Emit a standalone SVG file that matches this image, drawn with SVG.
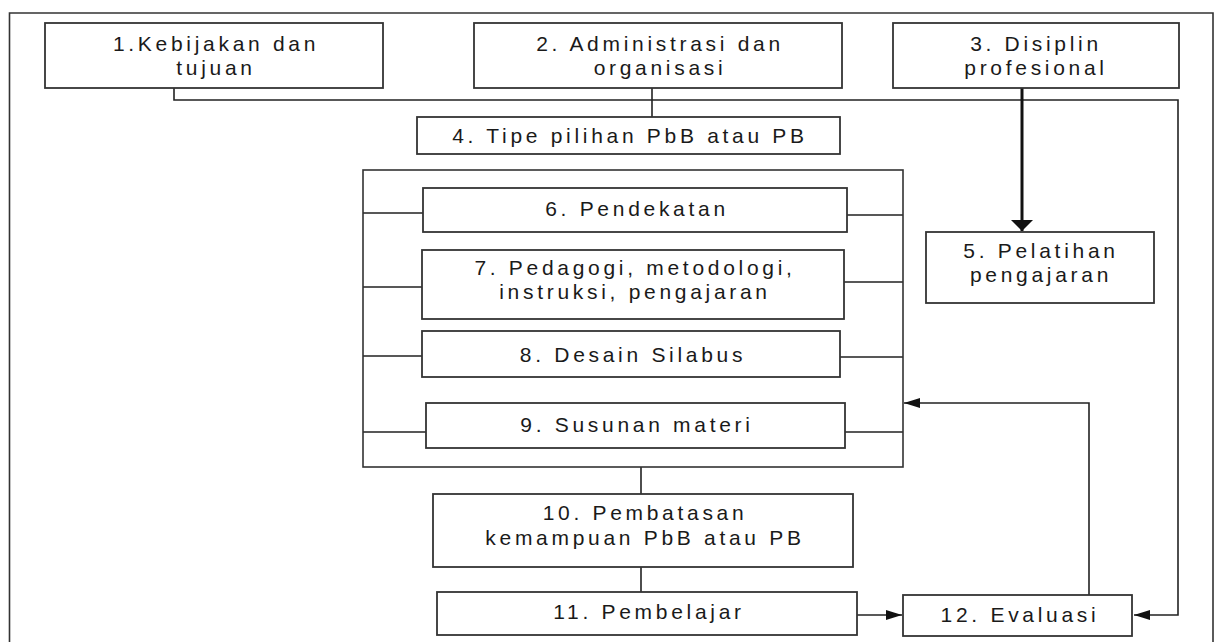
<svg xmlns="http://www.w3.org/2000/svg" width="1219" height="642" viewBox="0 0 1219 642">
<defs>
<style>
.box{fill:#fff;stroke:#333;stroke-width:1.8}
.frame{fill:none;stroke:#333;stroke-width:1.6}
.ln{fill:none;stroke:#222;stroke-width:1.6}
.thick{fill:none;stroke:#111;stroke-width:3}
text{font-family:"Liberation Sans",Arial,sans-serif;font-size:21px;fill:#1a1a1a;text-anchor:middle;letter-spacing:3.7px}
</style>
<marker id="arr" markerUnits="userSpaceOnUse" markerWidth="17" markerHeight="11" refX="16" refY="5" orient="auto">
<path d="M0,0 L16,5 L0,10 z" fill="#111"/>
</marker>
<marker id="arrT" markerUnits="userSpaceOnUse" markerWidth="12" markerHeight="23" refX="11" refY="11" orient="auto">
<path d="M0,0 L11,11 L0,22 z" fill="#111"/>
</marker>
</defs>
<rect width="1219" height="642" fill="#fff"/>
<path class="frame" d="M9.5,650 V13 H1213 V650"/>
<g id="connectors">
<path class="ln" d="M174,88 V100 H1178 V615 H1134" marker-end="url(#arr)"/>
<path class="ln" d="M652,88 V117"/>
<path class="thick" d="M1022,88 V231" marker-end="url(#arrT)"/>
<path class="ln" d="M363,213 H423 M363,287 H422 M363,356 H422 M363,432 H426"/>
<path class="ln" d="M847,215 H903 M844,282 H903 M840,357 H903 M845,432 H903"/>
<path class="ln" d="M641,467 V494 M641,567 V592"/>
<path class="ln" d="M857,615 H902" marker-end="url(#arr)"/>
<path class="ln" d="M1089,595 V403 H904" marker-end="url(#arr)"/>
</g>
<g id="node1"><rect class="box" x="45" y="23" width="338" height="65"/><text x="216" y="51">1.Kebijakan dan</text><text x="216" y="75">tujuan</text></g>
<g id="node2"><rect class="box" x="474" y="23" width="368" height="65"/><text x="660" y="51">2. Administrasi dan</text><text x="660" y="75">organisasi</text></g>
<g id="node3"><rect class="box" x="893" y="23" width="286" height="65"/><text x="1036" y="51">3. Disiplin</text><text x="1036" y="75">profesional</text></g>
<g id="node4"><rect class="box" x="417" y="117" width="423" height="37"/><text x="630" y="143">4. Tipe pilihan PbB atau PB</text></g>
<g id="node5"><rect class="box" x="926" y="232" width="228" height="71"/><text x="1041" y="258">5. Pelatihan</text><text x="1041" y="282">pengajaran</text></g>
<g id="container"><rect class="frame" x="363" y="170" width="540" height="297"/></g>
<g id="node6"><rect class="box" x="423" y="188" width="424" height="44"/><text x="637" y="216">6. Pendekatan</text></g>
<g id="node7"><rect class="box" x="422" y="250" width="422" height="69"/><text x="635" y="275">7. Pedagogi, metodologi,</text><text x="635" y="299">instruksi, pengajaran</text></g>
<g id="node8"><rect class="box" x="422" y="331" width="418" height="46"/><text x="633" y="362">8. Desain Silabus</text></g>
<g id="node9"><rect class="box" x="426" y="403" width="419" height="45"/><text x="637" y="432">9. Susunan materi</text></g>
<g id="node10"><rect class="box" x="433" y="494" width="420" height="73"/><text x="645" y="520">10. Pembatasan</text><text x="645" y="545">kemampuan PbB atau PB</text></g>
<g id="node11"><rect class="box" x="437" y="592" width="420" height="43"/><text x="649" y="619">11. Pembelajar</text></g>
<g id="node12"><rect class="box" x="903" y="595" width="229" height="41"/><text x="1020" y="622">12. Evaluasi</text></g>
</svg>
